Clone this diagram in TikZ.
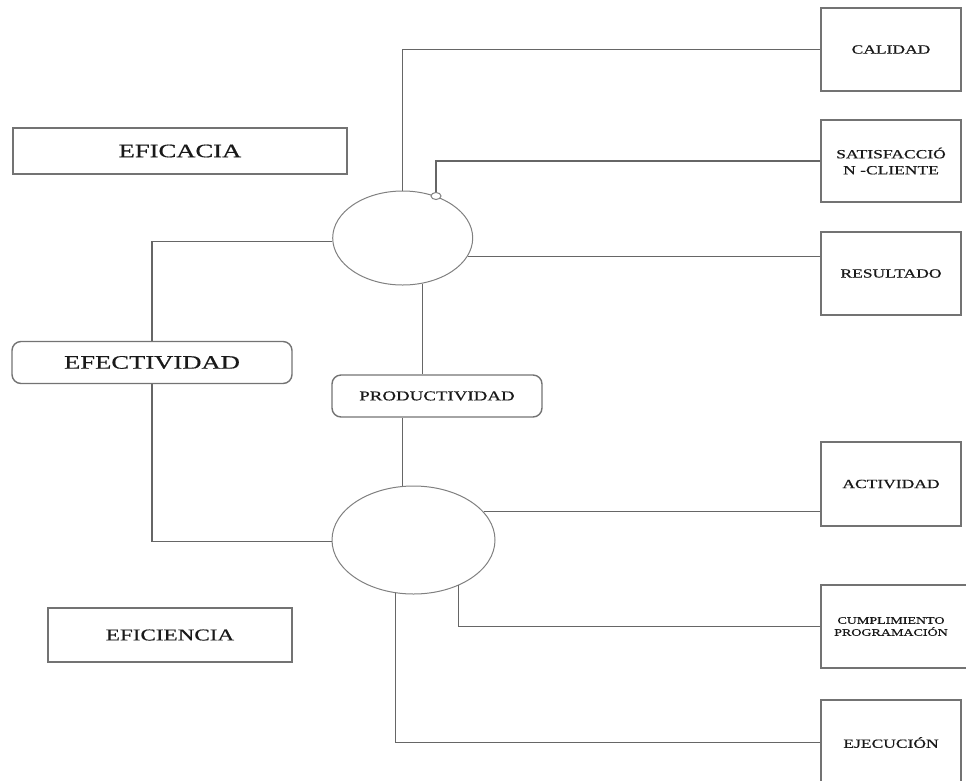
\documentclass[tikz,border=0pt]{standalone}
\usepackage{fontspec}
\setmainfont{Liberation Serif}[FakeStretch=1.4,FakeBold=0.6]
\usepackage{tikz}
\usetikzlibrary{shapes.geometric}

\begin{document}
\begin{tikzpicture}[x=1pt,y=-1pt,
	box/.style={shape=rectangle,draw=black!55,line width=1.4pt,inner sep=0pt,text=black!90},
	roundbox/.style={box,rounded corners=9pt},
	oval/.style={shape=ellipse,draw=black!50,line width=1pt,inner sep=0pt,fill=white},
	link/.style={draw=black!60,line width=1.1pt}]
		\useasboundingbox (0,0) rectangle (966,780);
		\node [box,minimum width=334pt,minimum height=46pt,font=\fontsize{19}{22}\selectfont] (L1) at (180,151) {EFICACIA};
		\node [roundbox,minimum width=280pt,minimum height=42pt,font=\fontsize{19}{22}\selectfont] (L2) at (152,362.5) {EFECTIVIDAD};
		\node [box,minimum width=244pt,minimum height=54pt,font=\fontsize{16.5}{19}\selectfont] (L3) at (170,635) {EFICIENCIA};
		\node [roundbox,minimum width=210pt,minimum height=42pt,font=\fontsize{13.5}{16}\selectfont] (P1) at (437,396) {PRODUCTIVIDAD};
		\node [oval,minimum width=140pt,minimum height=94pt] (O1) at (402.7,238) {};
		\node [oval,minimum width=163pt,minimum height=108pt] (O2) at (413.5,540) {};
		\node [oval,minimum width=10pt,minimum height=7pt] (K1) at (436,196) {};
		\node [box,minimum width=140pt,minimum height=83pt,font=\fontsize{12.5}{15}\selectfont] (R1) at (891,49.5) {CALIDAD};
		\node [box,minimum width=140pt,minimum height=82pt,align=center,font=\fontsize{12.5}{16}\selectfont] (R2) at (891,161) {SATISFACCIÓ\\N -CLIENTE};
		\node [box,minimum width=140pt,minimum height=83pt,font=\fontsize{12.5}{15}\selectfont] (R3) at (891,273.5) {RESULTADO};
		\node [box,minimum width=140pt,minimum height=84pt,font=\fontsize{12.5}{15}\selectfont] (R4) at (891,484) {ACTIVIDAD};
		\node [box,minimum width=160pt,minimum height=83pt,font=\fontsize{10}{12}\selectfont] (R5) at (901,626.5) {\parbox{140pt}{\centering CUMPLIMIENTO\\PROGRAMACIÓN}\hspace*{20pt}};
		\node [box,minimum width=140pt,minimum height=85pt,font=\fontsize{12.5}{15}\selectfont] (R6) at (891,742.5) {EJECUCIÓN};
		\draw [link] (O1.north) |- (R1.west);
		\draw [link] (K1.north) |- (R2.west);
		\draw [link] (O1.-16.5) -- (O1.-16.5 -| R3.west);
		\draw [link] (O1.183) -| (L2.north);
		\draw [link] (O1.-67) -- (O1.-67 |- P1.north);
		\draw [link] (O1.south |- P1.south) -- (O1.south |- O2.north);
		\draw [link] (O2.181) -| (L2.south);
		\draw [link] (O2.22) -- (O2.22 -| R4.west);
		\draw [link] (O2.-45.4) |- (R5.west);
		\draw [link] (O2.251.6) |- (R6.west);
	\end{tikzpicture}
\end{document}
